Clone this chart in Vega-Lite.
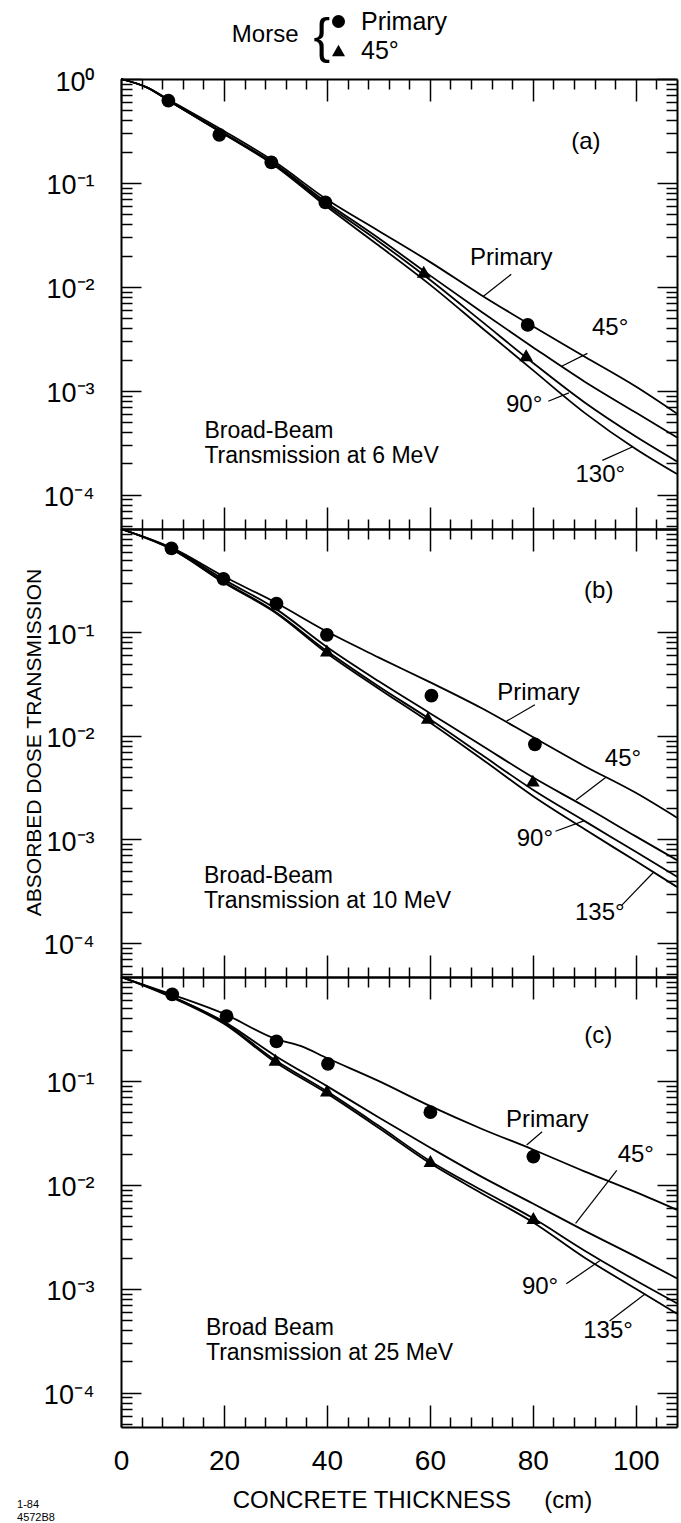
{
  "$schema": "https://vega.github.io/schema/vega-lite/v6.json",
  "background": "white",
  "padding": {"left": 17, "top": 9, "right": 4, "bottom": 4},
  "config": {
    "view": {"stroke": null},
    "axis": {"grid": false, "domainColor": "black", "domainWidth": 2, "tickColor": "black", "tickWidth": 1.5, "labelColor": "black", "titleColor": "black"}
  },
  "datasets": {
    "curves": [
      {"p":"a","c":"Primary","x":0,"y":1},{"p":"a","c":"Primary","x":5,"y":0.832},{"p":"a","c":"Primary","x":10,"y":0.603},{"p":"a","c":"Primary","x":20,"y":0.316},{"p":"a","c":"Primary","x":30,"y":0.158},{"p":"a","c":"Primary","x":40,"y":0.0692},{"p":"a","c":"Primary","x":50,"y":0.0347},{"p":"a","c":"Primary","x":60,"y":0.0174},{"p":"a","c":"Primary","x":70,"y":0.00832},{"p":"a","c":"Primary","x":80,"y":0.00417},{"p":"a","c":"Primary","x":90,"y":0.00214},{"p":"a","c":"Primary","x":100,"y":0.0011},{"p":"a","c":"Primary","x":108,"y":0.000603},
      {"p":"a","c":"45","x":0,"y":1},{"p":"a","c":"45","x":5,"y":0.83},{"p":"a","c":"45","x":10,"y":0.589},{"p":"a","c":"45","x":20,"y":0.302},{"p":"a","c":"45","x":30,"y":0.151},{"p":"a","c":"45","x":40,"y":0.0646},{"p":"a","c":"45","x":50,"y":0.0295},{"p":"a","c":"45","x":60,"y":0.0129},{"p":"a","c":"45","x":70,"y":0.00575},{"p":"a","c":"45","x":80,"y":0.00263},{"p":"a","c":"45","x":90,"y":0.00123},{"p":"a","c":"45","x":100,"y":0.000617},{"p":"a","c":"45","x":108,"y":0.000355},
      {"p":"a","c":"90","x":0,"y":1},{"p":"a","c":"90","x":5,"y":0.83},{"p":"a","c":"90","x":10,"y":0.589},{"p":"a","c":"90","x":20,"y":0.295},{"p":"a","c":"90","x":30,"y":0.148},{"p":"a","c":"90","x":40,"y":0.0617},{"p":"a","c":"90","x":50,"y":0.0275},{"p":"a","c":"90","x":60,"y":0.0117},{"p":"a","c":"90","x":70,"y":0.00468},{"p":"a","c":"90","x":80,"y":0.00186},{"p":"a","c":"90","x":90,"y":0.000776},{"p":"a","c":"90","x":100,"y":0.000363},{"p":"a","c":"90","x":108,"y":0.000209},
      {"p":"a","c":"130","x":0,"y":1},{"p":"a","c":"130","x":5,"y":0.83},{"p":"a","c":"130","x":10,"y":0.589},{"p":"a","c":"130","x":20,"y":0.295},{"p":"a","c":"130","x":30,"y":0.145},{"p":"a","c":"130","x":40,"y":0.0589},{"p":"a","c":"130","x":50,"y":0.0251},{"p":"a","c":"130","x":60,"y":0.0105},{"p":"a","c":"130","x":70,"y":0.00407},{"p":"a","c":"130","x":80,"y":0.00158},{"p":"a","c":"130","x":90,"y":0.000617},{"p":"a","c":"130","x":100,"y":0.000275},{"p":"a","c":"130","x":108,"y":0.000158},
      {"p":"b","c":"Primary","x":0,"y":1},{"p":"b","c":"Primary","x":10,"y":0.653},{"p":"b","c":"Primary","x":20,"y":0.347},{"p":"b","c":"Primary","x":30,"y":0.195},{"p":"b","c":"Primary","x":40,"y":0.102},{"p":"b","c":"Primary","x":50,"y":0.0575},{"p":"b","c":"Primary","x":60,"y":0.0331},{"p":"b","c":"Primary","x":70,"y":0.0186},{"p":"b","c":"Primary","x":80,"y":0.00977},{"p":"b","c":"Primary","x":90,"y":0.00513},{"p":"b","c":"Primary","x":100,"y":0.00282},{"p":"b","c":"Primary","x":108,"y":0.00162},
      {"p":"b","c":"45","x":0,"y":1},{"p":"b","c":"45","x":10,"y":0.646},{"p":"b","c":"45","x":20,"y":0.324},{"p":"b","c":"45","x":30,"y":0.17},{"p":"b","c":"45","x":40,"y":0.0724},{"p":"b","c":"45","x":50,"y":0.0339},{"p":"b","c":"45","x":60,"y":0.0166},{"p":"b","c":"45","x":70,"y":0.00813},{"p":"b","c":"45","x":80,"y":0.00398},{"p":"b","c":"45","x":90,"y":0.00209},{"p":"b","c":"45","x":100,"y":0.00107},{"p":"b","c":"45","x":108,"y":0.000631},
      {"p":"b","c":"90","x":0,"y":1},{"p":"b","c":"90","x":10,"y":0.631},{"p":"b","c":"90","x":20,"y":0.309},{"p":"b","c":"90","x":30,"y":0.158},{"p":"b","c":"90","x":40,"y":0.0661},{"p":"b","c":"90","x":50,"y":0.0302},{"p":"b","c":"90","x":60,"y":0.0145},{"p":"b","c":"90","x":70,"y":0.00661},{"p":"b","c":"90","x":80,"y":0.00302},{"p":"b","c":"90","x":90,"y":0.00151},{"p":"b","c":"90","x":100,"y":0.000759},{"p":"b","c":"90","x":108,"y":0.000437},
      {"p":"b","c":"135","x":0,"y":1},{"p":"b","c":"135","x":10,"y":0.631},{"p":"b","c":"135","x":20,"y":0.302},{"p":"b","c":"135","x":30,"y":0.155},{"p":"b","c":"135","x":40,"y":0.0631},{"p":"b","c":"135","x":50,"y":0.0288},{"p":"b","c":"135","x":60,"y":0.0135},{"p":"b","c":"135","x":70,"y":0.00603},{"p":"b","c":"135","x":80,"y":0.00263},{"p":"b","c":"135","x":90,"y":0.00126},{"p":"b","c":"135","x":100,"y":0.000617},{"p":"b","c":"135","x":108,"y":0.000347},
      {"p":"c","c":"Primary","x":0,"y":1},{"p":"c","c":"Primary","x":10,"y":0.676},{"p":"c","c":"Primary","x":20,"y":0.443},{"p":"c","c":"Primary","x":30,"y":0.254},{"p":"c","c":"Primary","x":35,"y":0.216},{"p":"c","c":"Primary","x":40,"y":0.166},{"p":"c","c":"Primary","x":50,"y":0.1},{"p":"c","c":"Primary","x":60,"y":0.0575},{"p":"c","c":"Primary","x":70,"y":0.0347},{"p":"c","c":"Primary","x":80,"y":0.0219},{"p":"c","c":"Primary","x":90,"y":0.0135},{"p":"c","c":"Primary","x":100,"y":0.00851},{"p":"c","c":"Primary","x":108,"y":0.00575},
      {"p":"c","c":"45","x":0,"y":1},{"p":"c","c":"45","x":10,"y":0.646},{"p":"c","c":"45","x":20,"y":0.372},{"p":"c","c":"45","x":30,"y":0.174},{"p":"c","c":"45","x":40,"y":0.0891},{"p":"c","c":"45","x":50,"y":0.0447},{"p":"c","c":"45","x":60,"y":0.0229},{"p":"c","c":"45","x":70,"y":0.012},{"p":"c","c":"45","x":80,"y":0.00661},{"p":"c","c":"45","x":90,"y":0.00363},{"p":"c","c":"45","x":100,"y":0.00204},{"p":"c","c":"45","x":108,"y":0.00126},
      {"p":"c","c":"90","x":0,"y":1},{"p":"c","c":"90","x":10,"y":0.646},{"p":"c","c":"90","x":20,"y":0.363},{"p":"c","c":"90","x":30,"y":0.158},{"p":"c","c":"90","x":40,"y":0.0794},{"p":"c","c":"90","x":50,"y":0.0372},{"p":"c","c":"90","x":60,"y":0.017},{"p":"c","c":"90","x":70,"y":0.00891},{"p":"c","c":"90","x":80,"y":0.00479},{"p":"c","c":"90","x":90,"y":0.00234},{"p":"c","c":"90","x":100,"y":0.0012},{"p":"c","c":"90","x":108,"y":0.000724},
      {"p":"c","c":"135","x":0,"y":1},{"p":"c","c":"135","x":10,"y":0.631},{"p":"c","c":"135","x":20,"y":0.355},{"p":"c","c":"135","x":30,"y":0.151},{"p":"c","c":"135","x":40,"y":0.0759},{"p":"c","c":"135","x":50,"y":0.0355},{"p":"c","c":"135","x":60,"y":0.0162},{"p":"c","c":"135","x":70,"y":0.00832},{"p":"c","c":"135","x":80,"y":0.00437},{"p":"c","c":"135","x":90,"y":0.002},{"p":"c","c":"135","x":100,"y":0.001},{"p":"c","c":"135","x":108,"y":0.000575}
    ],
    "points": [
      {"p":"a","s":"Primary","x":9.2,"y":0.62},{"p":"a","s":"Primary","x":19.1,"y":0.29},{"p":"a","s":"Primary","x":29.2,"y":0.158},{"p":"a","s":"Primary","x":39.7,"y":0.065},{"p":"a","s":"Primary","x":79,"y":0.0043},
      {"p":"a","s":"45°","x":58.8,"y":0.014},{"p":"a","s":"45°","x":78.7,"y":0.0022},
      {"p":"b","s":"Primary","x":9.8,"y":0.65},{"p":"b","s":"Primary","x":19.9,"y":0.33},{"p":"b","s":"Primary","x":30.2,"y":0.19},{"p":"b","s":"Primary","x":40,"y":0.095},{"p":"b","s":"Primary","x":60.3,"y":0.0245},{"p":"b","s":"Primary","x":80.4,"y":0.0083},
      {"p":"b","s":"45°","x":40,"y":0.067},{"p":"b","s":"45°","x":59.6,"y":0.015},{"p":"b","s":"45°","x":80,"y":0.0037},
      {"p":"c","s":"Primary","x":9.95,"y":0.68},{"p":"c","s":"Primary","x":20.5,"y":0.42},{"p":"c","s":"Primary","x":30.2,"y":0.24},{"p":"c","s":"Primary","x":40.2,"y":0.146},{"p":"c","s":"Primary","x":60.1,"y":0.05},{"p":"c","s":"Primary","x":80.1,"y":0.0187},
      {"p":"c","s":"45°","x":30,"y":0.16},{"p":"c","s":"45°","x":40,"y":0.081},{"p":"c","s":"45°","x":60.1,"y":0.017},{"p":"c","s":"45°","x":80.1,"y":0.0048}
    ],
    "notes": [
      {"p":"a","k":"label","x":90.3,"y":0.245,"t":"(a)"},
      {"p":"a","k":"label","x":75.8,"y":0.019,"t":"Primary"},
      {"p":"a","k":"label","x":95,"y":0.00398,"t":"45°"},
      {"p":"a","k":"label","x":78.3,"y":0.000733,"t":"90°"},
      {"p":"a","k":"label","x":93.1,"y":0.000155,"t":"130°"},
      {"p":"a","k":"caption","x":16.2,"y":0.000412,"t":"Broad-Beam"},
      {"p":"a","k":"caption","x":16.2,"y":0.000237,"t":"Transmission at 6 MeV"},
      {"p":"a","k":"label","x":28,"y":2.65,"t":"Morse"},
      {"p":"a","k":"brace","x":39,"y":2.5,"t":"{"},
      {"p":"b","k":"label","x":92.8,"y":0.251,"t":"(b)"},
      {"p":"b","k":"label","x":81.1,"y":0.026,"t":"Primary"},
      {"p":"b","k":"label","x":97.5,"y":0.00603,"t":"45°"},
      {"p":"b","k":"label","x":80.4,"y":0.00102,"t":"90°"},
      {"p":"b","k":"label","x":93,"y":0.000195,"t":"135°"},
      {"p":"b","k":"caption","x":16.1,"y":0.000444,"t":"Broad-Beam"},
      {"p":"b","k":"caption","x":16.1,"y":0.000255,"t":"Transmission at 10 MeV"},
      {"p":"c","k":"label","x":92.7,"y":0.269,"t":"(c)"},
      {"p":"c","k":"label","x":82.8,"y":0.042,"t":"Primary"},
      {"p":"c","k":"label","x":100,"y":0.0195,"t":"45°"},
      {"p":"c","k":"label","x":81.4,"y":0.00105,"t":"90°"},
      {"p":"c","k":"label","x":94.6,"y":0.00039,"t":"135°"},
      {"p":"c","k":"caption","x":16.5,"y":0.000417,"t":"Broad Beam"},
      {"p":"c","k":"caption","x":16.5,"y":0.00024,"t":"Transmission at 25 MeV"},
      {"p":"c","k":"id","x":-20.2,"y":0.0000083,"t":"1-84"},
      {"p":"c","k":"id","x":-20.2,"y":0.0000062,"t":"4572B8"}
    ],
    "arrows": [
      {"p":"a","x":75.8,"y":0.0132,"x2":70.4,"y2":0.00813},
      {"p":"a","x":90.6,"y":0.00229,"x2":85.6,"y2":0.00172},
      {"p":"a","x":83,"y":0.000794,"x2":87,"y2":0.000955},
      {"p":"a","x":93.5,"y":0.000214,"x2":99.3,"y2":0.000288},
      {"p":"b","x":80.4,"y":0.02,"x2":74.9,"y2":0.0139},
      {"p":"b","x":94.2,"y":0.00398,"x2":88.4,"y2":0.0024},
      {"p":"b","x":84.4,"y":0.0012,"x2":89.9,"y2":0.00151},
      {"p":"b","x":97.2,"y":0.000229,"x2":103.4,"y2":0.000479},
      {"p":"c","x":81.8,"y":0.0324,"x2":78.8,"y2":0.0242},
      {"p":"c","x":96.3,"y":0.0138,"x2":88.3,"y2":0.00427},
      {"p":"c","x":86.5,"y":0.00112,"x2":93,"y2":0.00186},
      {"p":"c","x":94.9,"y":0.00049,"x2":101.8,"y2":0.00089}
    ]
  },
  "spacing": 0,
  "bounds": "flush",
  "resolve": {"legend": {"shape": "independent"}},
  "vconcat": [
    {
      "width": 556, "height": 450,
      "resolve": {"axis": {"x": "independent", "y": "independent"}},
      "layer": [
        {
          "data": {"name": "curves"},
          "transform": [{"filter": "datum.p == 'a'"}],
          "mark": {"type": "line", "color": "black", "strokeWidth": 1.8, "interpolate": "monotone"},
          "encoding": {
            "x": {"field": "x", "type": "quantitative", "scale": {"domain": [0, 108], "nice": false, "zero": false},
              "axis": {"orient": "bottom", "values": [0,4,8,12,16,20,24,28,32,36,40,44,48,52,56,60,64,68,72,76,80,84,88,92,96,100,104], "tickSize": {"condition": {"test": "datum.value % 20 === 0", "value": -22}, "value": -10}, "labels": false, "title": null}},
            "y": {"field": "y", "type": "quantitative", "scale": {"type": "log", "domain": [0.0000468, 1], "nice": false},
              "axis": {"orient": "left", "values": [0.00005,0.00006,0.00007,0.00008,0.00009,0.0001,0.0002,0.0003,0.0004,0.0005,0.0006,0.0007,0.0008,0.0009,0.001,0.002,0.003,0.004,0.005,0.006,0.007,0.008,0.009,0.01,0.02,0.03,0.04,0.05,0.06,0.07,0.08,0.09,0.1,0.2,0.3,0.4,0.5,0.6,0.7,0.8,0.9,1],
                "tickSize": {"condition": {"test": "indexof([1,0.1,0.01,0.001,0.0001], datum.value) >= 0", "value": -20}, "value": -11},
                "labelExpr": "datum.value == 1 ? '10⁰' : datum.value == 0.1 ? '10⁻¹' : datum.value == 0.01 ? '10⁻²' : datum.value == 0.001 ? '10⁻³' : datum.value == 0.0001 ? '10⁻⁴' : ''",
                "labelPadding": 47, "labelFontSize": 27, "labelFont": "Liberation Sans", "labelBaseline": "middle", "labelOffset": 3, "labelOverlap": false, "labelFlush": false, "title": null}},
            "detail": {"field": "c"}
          }
        },
        {
          "data": {"name": "points"},
          "transform": [{"filter": "datum.p == 'a'"}],
          "mark": {"type": "point", "filled": true, "color": "black", "opacity": 1, "size": 190},
          "encoding": {
            "x": {"field": "x", "type": "quantitative",
              "axis": {"orient": "top", "values": [0,4,8,12,16,20,24,28,32,36,40,44,48,52,56,60,64,68,72,76,80,84,88,92,96,100,104], "tickSize": {"condition": {"test": "datum.value % 20 === 0", "value": -22}, "value": -10}, "labels": false, "title": null}},
            "y": {"field": "y", "type": "quantitative",
              "axis": {"orient": "right", "values": [0.00005,0.00006,0.00007,0.00008,0.00009,0.0001,0.0002,0.0003,0.0004,0.0005,0.0006,0.0007,0.0008,0.0009,0.001,0.002,0.003,0.004,0.005,0.006,0.007,0.008,0.009,0.01,0.02,0.03,0.04,0.05,0.06,0.07,0.08,0.09,0.1,0.2,0.3,0.4,0.5,0.6,0.7,0.8,0.9,1],
                "tickSize": {"condition": {"test": "indexof([1,0.1,0.01,0.001,0.0001], datum.value) >= 0", "value": -20}, "value": -11}, "labels": false, "title": null}},
            "shape": {"field": "s", "type": "nominal", "scale": {"domain": ["Primary", "45°"], "range": ["circle", "triangle-up"]},
              "legend": {"orient": "none", "legendX": 205, "legendY": -70, "title": null, "direction": "vertical", "labelFontSize": 25, "labelFont": "Liberation Sans", "labelColor": "black", "symbolSize": 170, "symbolFillColor": "black", "symbolStrokeColor": "black", "symbolStrokeWidth": 0, "rowPadding": 3, "labelOffset": 10, "padding": 0}}
          }
        },
        {
          "data": {"name": "arrows"},
          "transform": [{"filter": "datum.p == 'a'"}],
          "mark": {"type": "rule", "color": "black", "strokeWidth": 1.2},
          "encoding": {
            "x": {"field": "x", "type": "quantitative", "axis": null},
            "x2": {"field": "x2"},
            "y": {"field": "y", "type": "quantitative", "axis": null},
            "y2": {"field": "y2"}
          }
        },
        {
          "data": {"name": "notes"},
          "transform": [{"filter": "datum.p == 'a' && datum.k == 'label'"}],
          "mark": {"type": "text", "font": "Liberation Sans", "fontSize": 24, "align": "center", "baseline": "middle", "color": "black"},
          "encoding": {
            "x": {"field": "x", "type": "quantitative", "axis": null},
            "y": {"field": "y", "type": "quantitative", "axis": null},
            "text": {"field": "t"}
          }
        },
        {
          "data": {"name": "notes"},
          "transform": [{"filter": "datum.p == 'a' && datum.k == 'caption'"}],
          "mark": {"type": "text", "font": "Liberation Sans", "fontSize": 23, "align": "left", "baseline": "middle", "color": "black"},
          "encoding": {
            "x": {"field": "x", "type": "quantitative", "axis": null},
            "y": {"field": "y", "type": "quantitative", "axis": null},
            "text": {"field": "t"}
          }
        },
        {
          "data": {"name": "notes"},
          "transform": [{"filter": "datum.p == 'a' && datum.k == 'brace'"}],
          "mark": {"type": "text", "font": "Liberation Sans", "fontSize": 50, "align": "center", "baseline": "middle", "color": "black"},
          "encoding": {
            "x": {"field": "x", "type": "quantitative", "axis": null},
            "y": {"field": "y", "type": "quantitative", "axis": null},
            "text": {"field": "t"}
          }
        }
      ]
    },
    {
      "width": 556, "height": 448,
      "resolve": {"axis": {"x": "independent", "y": "independent"}},
      "layer": [
        {
          "data": {"name": "curves"},
          "transform": [{"filter": "datum.p == 'b'"}],
          "mark": {"type": "line", "color": "black", "strokeWidth": 1.8, "interpolate": "monotone"},
          "encoding": {
            "x": {"field": "x", "type": "quantitative", "scale": {"domain": [0, 108], "nice": false, "zero": false},
              "axis": {"orient": "bottom", "values": [0,4,8,12,16,20,24,28,32,36,40,44,48,52,56,60,64,68,72,76,80,84,88,92,96,100,104], "tickSize": {"condition": {"test": "datum.value % 20 === 0", "value": -22}, "value": -10}, "labels": false, "title": null}},
            "y": {"field": "y", "type": "quantitative", "scale": {"type": "log", "domain": [0.0000468, 1], "nice": false},
              "axis": {"orient": "left", "values": [0.00005,0.00006,0.00007,0.00008,0.00009,0.0001,0.0002,0.0003,0.0004,0.0005,0.0006,0.0007,0.0008,0.0009,0.001,0.002,0.003,0.004,0.005,0.006,0.007,0.008,0.009,0.01,0.02,0.03,0.04,0.05,0.06,0.07,0.08,0.09,0.1,0.2,0.3,0.4,0.5,0.6,0.7,0.8,0.9,1],
                "tickSize": {"condition": {"test": "indexof([1,0.1,0.01,0.001,0.0001], datum.value) >= 0", "value": -20}, "value": -11},
                "labelExpr": "datum.value == 0.1 ? '10⁻¹' : datum.value == 0.01 ? '10⁻²' : datum.value == 0.001 ? '10⁻³' : datum.value == 0.0001 ? '10⁻⁴' : ''",
                "labelPadding": 47, "labelFontSize": 27, "labelFont": "Liberation Sans", "labelBaseline": "middle", "labelOffset": 3, "labelOverlap": false, "labelFlush": false,
                "title": "ABSORBED DOSE TRANSMISSION", "titleFont": "Liberation Sans", "titleFontSize": 21, "titleFontWeight": "normal", "titleAngle": -90, "titleX": -87, "titleY": 213, "titleAlign": "center", "titleBaseline": "middle"}},
            "detail": {"field": "c"}
          }
        },
        {
          "data": {"name": "points"},
          "transform": [{"filter": "datum.p == 'b'"}],
          "mark": {"type": "point", "filled": true, "color": "black", "opacity": 1, "size": 190},
          "encoding": {
            "x": {"field": "x", "type": "quantitative",
              "axis": {"orient": "top", "values": [0,4,8,12,16,20,24,28,32,36,40,44,48,52,56,60,64,68,72,76,80,84,88,92,96,100,104], "tickSize": {"condition": {"test": "datum.value % 20 === 0", "value": -22}, "value": -10}, "labels": false, "title": null}},
            "y": {"field": "y", "type": "quantitative",
              "axis": {"orient": "right", "values": [0.00005,0.00006,0.00007,0.00008,0.00009,0.0001,0.0002,0.0003,0.0004,0.0005,0.0006,0.0007,0.0008,0.0009,0.001,0.002,0.003,0.004,0.005,0.006,0.007,0.008,0.009,0.01,0.02,0.03,0.04,0.05,0.06,0.07,0.08,0.09,0.1,0.2,0.3,0.4,0.5,0.6,0.7,0.8,0.9,1],
                "tickSize": {"condition": {"test": "indexof([1,0.1,0.01,0.001,0.0001], datum.value) >= 0", "value": -20}, "value": -11}, "labels": false, "title": null}},
            "shape": {"field": "s", "type": "nominal", "scale": {"domain": ["Primary", "45°"], "range": ["circle", "triangle-up"]}, "legend": null}
          }
        },
        {
          "data": {"name": "arrows"},
          "transform": [{"filter": "datum.p == 'b'"}],
          "mark": {"type": "rule", "color": "black", "strokeWidth": 1.2},
          "encoding": {
            "x": {"field": "x", "type": "quantitative", "axis": null},
            "x2": {"field": "x2"},
            "y": {"field": "y", "type": "quantitative", "axis": null},
            "y2": {"field": "y2"}
          }
        },
        {
          "data": {"name": "notes"},
          "transform": [{"filter": "datum.p == 'b' && datum.k == 'label'"}],
          "mark": {"type": "text", "font": "Liberation Sans", "fontSize": 24, "align": "center", "baseline": "middle", "color": "black"},
          "encoding": {
            "x": {"field": "x", "type": "quantitative", "axis": null},
            "y": {"field": "y", "type": "quantitative", "axis": null},
            "text": {"field": "t"}
          }
        },
        {
          "data": {"name": "notes"},
          "transform": [{"filter": "datum.p == 'b' && datum.k == 'caption'"}],
          "mark": {"type": "text", "font": "Liberation Sans", "fontSize": 23, "align": "left", "baseline": "middle", "color": "black"},
          "encoding": {
            "x": {"field": "x", "type": "quantitative", "axis": null},
            "y": {"field": "y", "type": "quantitative", "axis": null},
            "text": {"field": "t"}
          }
        }
      ]
    },
    {
      "width": 556, "height": 450,
      "resolve": {"axis": {"x": "independent", "y": "independent"}},
      "layer": [
        {
          "data": {"name": "curves"},
          "transform": [{"filter": "datum.p == 'c'"}],
          "mark": {"type": "line", "color": "black", "strokeWidth": 1.8, "interpolate": "monotone"},
          "encoding": {
            "x": {"field": "x", "type": "quantitative", "scale": {"domain": [0, 108], "nice": false, "zero": false},
              "axis": {"orient": "bottom", "values": [0,4,8,12,16,20,24,28,32,36,40,44,48,52,56,60,64,68,72,76,80,84,88,92,96,100,104], "tickSize": {"condition": {"test": "datum.value % 20 === 0", "value": -22}, "value": -10},
                "labelExpr": "datum.value % 20 === 0 ? '' + datum.value : ''", "labelPadding": 42, "labelBaseline": "top", "labelFontSize": 28, "labelFont": "Liberation Sans", "labelOverlap": false, "labelFlush": false,
                "title": "CONCRETE THICKNESS\u00a0\u00a0\u00a0\u00a0\u00a0(cm)", "titleFont": "Liberation Sans", "titleFontSize": 24, "titleFontWeight": "normal", "titleX": 291, "titleY": 73, "titleAlign": "center", "titleBaseline": "middle"}},
            "y": {"field": "y", "type": "quantitative", "scale": {"type": "log", "domain": [0.0000468, 1], "nice": false},
              "axis": {"orient": "left", "values": [0.00005,0.00006,0.00007,0.00008,0.00009,0.0001,0.0002,0.0003,0.0004,0.0005,0.0006,0.0007,0.0008,0.0009,0.001,0.002,0.003,0.004,0.005,0.006,0.007,0.008,0.009,0.01,0.02,0.03,0.04,0.05,0.06,0.07,0.08,0.09,0.1,0.2,0.3,0.4,0.5,0.6,0.7,0.8,0.9,1],
                "tickSize": {"condition": {"test": "indexof([1,0.1,0.01,0.001,0.0001], datum.value) >= 0", "value": -20}, "value": -11},
                "labelExpr": "datum.value == 0.1 ? '10⁻¹' : datum.value == 0.01 ? '10⁻²' : datum.value == 0.001 ? '10⁻³' : datum.value == 0.0001 ? '10⁻⁴' : ''",
                "labelPadding": 47, "labelFontSize": 27, "labelFont": "Liberation Sans", "labelBaseline": "middle", "labelOffset": 3, "labelOverlap": false, "labelFlush": false, "title": null}},
            "detail": {"field": "c"}
          }
        },
        {
          "data": {"name": "points"},
          "transform": [{"filter": "datum.p == 'c'"}],
          "mark": {"type": "point", "filled": true, "color": "black", "opacity": 1, "size": 190},
          "encoding": {
            "x": {"field": "x", "type": "quantitative",
              "axis": {"orient": "top", "values": [0,4,8,12,16,20,24,28,32,36,40,44,48,52,56,60,64,68,72,76,80,84,88,92,96,100,104], "tickSize": {"condition": {"test": "datum.value % 20 === 0", "value": -22}, "value": -10}, "labels": false, "title": null}},
            "y": {"field": "y", "type": "quantitative",
              "axis": {"orient": "right", "values": [0.00005,0.00006,0.00007,0.00008,0.00009,0.0001,0.0002,0.0003,0.0004,0.0005,0.0006,0.0007,0.0008,0.0009,0.001,0.002,0.003,0.004,0.005,0.006,0.007,0.008,0.009,0.01,0.02,0.03,0.04,0.05,0.06,0.07,0.08,0.09,0.1,0.2,0.3,0.4,0.5,0.6,0.7,0.8,0.9,1],
                "tickSize": {"condition": {"test": "indexof([1,0.1,0.01,0.001,0.0001], datum.value) >= 0", "value": -20}, "value": -11}, "labels": false, "title": null}},
            "shape": {"field": "s", "type": "nominal", "scale": {"domain": ["Primary", "45°"], "range": ["circle", "triangle-up"]}, "legend": null}
          }
        },
        {
          "data": {"name": "arrows"},
          "transform": [{"filter": "datum.p == 'c'"}],
          "mark": {"type": "rule", "color": "black", "strokeWidth": 1.2},
          "encoding": {
            "x": {"field": "x", "type": "quantitative", "axis": null},
            "x2": {"field": "x2"},
            "y": {"field": "y", "type": "quantitative", "axis": null},
            "y2": {"field": "y2"}
          }
        },
        {
          "data": {"name": "notes"},
          "transform": [{"filter": "datum.p == 'c' && datum.k == 'label'"}],
          "mark": {"type": "text", "font": "Liberation Sans", "fontSize": 24, "align": "center", "baseline": "middle", "color": "black"},
          "encoding": {
            "x": {"field": "x", "type": "quantitative", "axis": null},
            "y": {"field": "y", "type": "quantitative", "axis": null},
            "text": {"field": "t"}
          }
        },
        {
          "data": {"name": "notes"},
          "transform": [{"filter": "datum.p == 'c' && datum.k == 'caption'"}],
          "mark": {"type": "text", "font": "Liberation Sans", "fontSize": 23, "align": "left", "baseline": "middle", "color": "black"},
          "encoding": {
            "x": {"field": "x", "type": "quantitative", "axis": null},
            "y": {"field": "y", "type": "quantitative", "axis": null},
            "text": {"field": "t"}
          }
        },
        {
          "data": {"name": "notes"},
          "transform": [{"filter": "datum.p == 'c' && datum.k == 'id'"}],
          "mark": {"type": "text", "font": "Liberation Sans", "fontSize": 11, "align": "left", "baseline": "middle", "color": "black"},
          "encoding": {
            "x": {"field": "x", "type": "quantitative", "axis": null},
            "y": {"field": "y", "type": "quantitative", "axis": null},
            "text": {"field": "t"}
          }
        }
      ]
    }
  ]
}
